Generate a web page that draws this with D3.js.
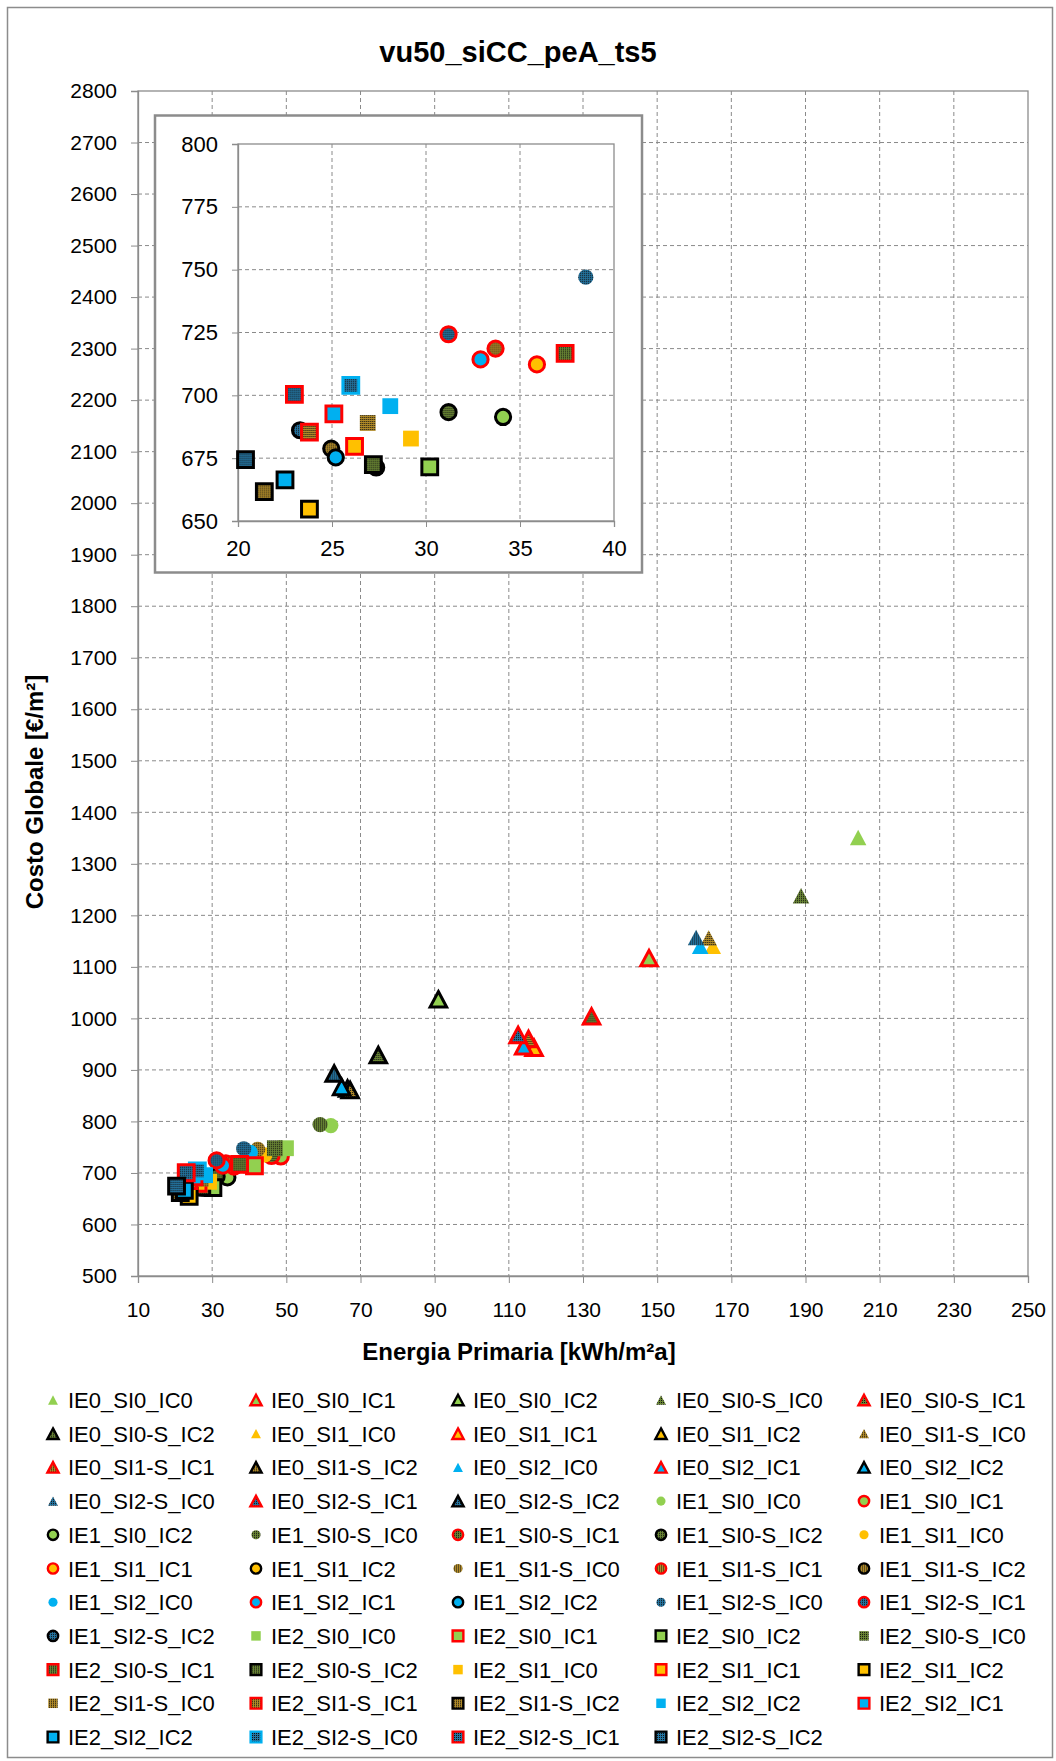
<!DOCTYPE html>
<html><head><meta charset="utf-8">
<script src="https://cdn.jsdelivr.net/npm/d3@7"></script>
<style>
body{margin:0;background:#fff}
text{font-family:"Liberation Sans",Arial,Helvetica,sans-serif;fill:#000}
</style>
</head><body>
<svg id="chart" width="1056" height="1761"></svg>
<script>
// ---------------- DATA ----------------
const seriesKeys = [
 "IE0_SI0_IC0","IE0_SI0_IC1","IE0_SI0_IC2","IE0_SI0-S_IC0","IE0_SI0-S_IC1",
 "IE0_SI0-S_IC2","IE0_SI1_IC0","IE0_SI1_IC1","IE0_SI1_IC2","IE0_SI1-S_IC0",
 "IE0_SI1-S_IC1","IE0_SI1-S_IC2","IE0_SI2_IC0","IE0_SI2_IC1","IE0_SI2_IC2",
 "IE0_SI2-S_IC0","IE0_SI2-S_IC1","IE0_SI2-S_IC2","IE1_SI0_IC0","IE1_SI0_IC1",
 "IE1_SI0_IC2","IE1_SI0-S_IC0","IE1_SI0-S_IC1","IE1_SI0-S_IC2","IE1_SI1_IC0",
 "IE1_SI1_IC1","IE1_SI1_IC2","IE1_SI1-S_IC0","IE1_SI1-S_IC1","IE1_SI1-S_IC2",
 "IE1_SI2_IC0","IE1_SI2_IC1","IE1_SI2_IC2","IE1_SI2-S_IC0","IE1_SI2-S_IC1",
 "IE1_SI2-S_IC2","IE2_SI0_IC0","IE2_SI0_IC1","IE2_SI0_IC2","IE2_SI0-S_IC0",
 "IE2_SI0-S_IC1","IE2_SI0-S_IC2","IE2_SI1_IC0","IE2_SI1_IC1","IE2_SI1_IC2",
 "IE2_SI1-S_IC0","IE2_SI1-S_IC1","IE2_SI1-S_IC2","IE2_SI2_IC0","IE2_SI2_IC1",
 "IE2_SI2_IC2","IE2_SI2-S_IC0","IE2_SI2-S_IC1","IE2_SI2-S_IC2"
];
const legendLabels = [
 "IE0_SI0_IC0","IE0_SI0_IC1","IE0_SI0_IC2","IE0_SI0-S_IC0","IE0_SI0-S_IC1",
 "IE0_SI0-S_IC2","IE0_SI1_IC0","IE0_SI1_IC1","IE0_SI1_IC2","IE0_SI1-S_IC0",
 "IE0_SI1-S_IC1","IE0_SI1-S_IC2","IE0_SI2_IC0","IE0_SI2_IC1","IE0_SI2_IC2",
 "IE0_SI2-S_IC0","IE0_SI2-S_IC1","IE0_SI2-S_IC2","IE1_SI0_IC0","IE1_SI0_IC1",
 "IE1_SI0_IC2","IE1_SI0-S_IC0","IE1_SI0-S_IC1","IE1_SI0-S_IC2","IE1_SI1_IC0",
 "IE1_SI1_IC1","IE1_SI1_IC2","IE1_SI1-S_IC0","IE1_SI1-S_IC1","IE1_SI1-S_IC2",
 "IE1_SI2_IC0","IE1_SI2_IC1","IE1_SI2_IC2","IE1_SI2-S_IC0","IE1_SI2-S_IC1",
 "IE1_SI2-S_IC2","IE2_SI0_IC0","IE2_SI0_IC1","IE2_SI0_IC2","IE2_SI0-S_IC0",
 "IE2_SI0-S_IC1","IE2_SI0-S_IC2","IE2_SI1_IC0","IE2_SI1_IC1","IE2_SI1_IC2",
 "IE2_SI1-S_IC0","IE2_SI1-S_IC1","IE2_SI1-S_IC2","IE2_SI2_IC2","IE2_SI2_IC1",
 "IE2_SI2_IC2","IE2_SI2-S_IC0","IE2_SI2-S_IC1","IE2_SI2-S_IC2"
];
// Energia Primaria [kWh/m2a]
const energia = [
 204.2, 147.8, 91.0, 188.8, 132.3,
 74.8, 165.0, 116.8, 66.5, 163.9,
 115.3, 67.2, 161.6, 114.0, 64.9,
 160.5, 112.5, 62.9, 62.0, 48.5,
 34.1, 59.1, 46.0, 31.2, 44.2,
 35.9, 27.35, 42.3, 33.7, 24.96,
 40.3, 32.9, 25.2, 38.5, 31.2,
 23.3, 49.9, 41.4, 30.2, 46.9,
 37.4, 27.2, 29.2, 26.2, 23.8,
 26.9, 23.8, 21.4, 28.1, 25.1,
 22.5, 26.0, 23.0, 20.4
];
// Costo Globale [EUR/m2]
const costo = [
 1351, 1117, 1037, 1238, 1004,
 929, 1140, 943, 864, 1156,
 960, 861, 1140, 946, 867,
 1157, 968, 893, 792, 732,
 691.4, 794, 733, 693.3, 735,
 712.3, 671.3, 746, 718.6, 678.8,
 740, 714.3, 675.3, 747, 724.3,
 686.1, 748, 714, 671.5, 748,
 716.7, 672.4, 682.8, 679.7, 654.7,
 689, 685.4, 661.7, 695.7, 692.6,
 666.4, 704, 700.4, 674.4
];
const xTickValues = [10,30,50,70,90,110,130,150,170,190,210,230,250];
const yTickValues = [500,600,700,800,900,1000,1100,1200,1300,1400,1500,1600,1700,1800,1900,2000,2100,2200,2300,2400,2500,2600,2700,2800];
const insetXTicks = [20,25,30,35,40];
const insetYTicks = [650,675,700,725,750,775,800];
const chartTitle = "vu50_siCC_peA_ts5";
const xTitle = "Energia Primaria [kWh/m²a]";
const yTitle = "Costo Globale [€/m²]";

// ---------------- STYLE HELPERS ----------------
const svg = d3.select("#chart");
const defs = svg.append("defs");
const patternBase = {"SI0-S":"#688433","SI1-S":"#B08A28","SI2-S":"#2474A0"};
Object.entries(patternBase).forEach(([k,c])=>{
  const p = defs.append("pattern").attr("id","pat"+k.replace("-",""))
    .attr("patternUnits","userSpaceOnUse").attr("width",2).attr("height",2);
  p.append("rect").attr("width",2).attr("height",2).attr("fill",c);
  p.append("rect").attr("width",1).attr("height",1).attr("fill","#111");
});
const solidFill = {"SI0":"#92D050","SI1":"#FFC000","SI2":"#00B0F0"};
function parseKey(k){ const p=k.split("_"); return {ie:p[0], si:p[1], ic:p[2]}; }
function fillOf(k){ const s=parseKey(k).si; return solidFill[s] || "url(#pat"+s.replace("-","")+")"; }
function strokeOf(k){
  const q=parseKey(k);
  if(q.ic==="IC1") return "#FF0000";
  if(q.ic==="IC2") return "#000000";
  if(q.ie==="IE2" && q.si==="SI2-S") return "#00B0F0";
  return "none";
}
function shapePath(k, sc){
  const ie=parseKey(k).ie, p=d3.path();
  if(ie==="IE0"){ const w=16.5*sc,h=15.5*sc; p.moveTo(0,-h/2); p.lineTo(w/2,h/2); p.lineTo(-w/2,h/2); p.closePath(); }
  else if(ie==="IE1"){ const r=7.6*sc; p.arc(0,0,r,0,2*Math.PI); p.closePath(); }
  else { const s=15.8*sc; p.rect(-s/2,-s/2,s,s); }
  return p.toString();
}
function drawMarkers(g, idx, xs, ys, sc, sw){
  g.selectAll("path.mk").data(idx).enter().append("path").attr("class","mk")
    .attr("d", i=>shapePath(seriesKeys[i], sc))
    .attr("transform", i=>`translate(${xs(energia[i])},${ys(costo[i])})`)
    .attr("fill", i=>fillOf(seriesKeys[i]))
    .attr("stroke", i=>strokeOf(seriesKeys[i]))
    .attr("stroke-width", sw).attr("stroke-linejoin","miter");
}

// ---------------- FRAME ----------------
svg.append("rect").attr("x",7.5).attr("y",7.5).attr("width",1045).attr("height",1750)
  .attr("fill","#fff").attr("stroke","#8c8c8c").attr("stroke-width",1.5);
svg.append("text").attr("x",518).attr("y",62).attr("text-anchor","middle")
  .style("font-size","29px").style("font-weight","bold").text(chartTitle);

// ---------------- MAIN PLOT ----------------
const L=138, R=1028, T=91, B=1276;
const x = d3.scaleLinear().domain([10,250]).range([L,R]);
const y = d3.scaleLinear().domain([500,2800]).range([B,T]);
const grid = svg.append("g");
grid.selectAll("line.v").data(xTickValues.slice(1,-1)).enter().append("line")
  .attr("x1",d=>x(d)).attr("x2",d=>x(d)).attr("y1",T).attr("y2",B)
  .attr("stroke","#8a8a8a").attr("stroke-dasharray","4,3");
grid.selectAll("line.h").data(yTickValues.slice(1,-1)).enter().append("line")
  .attr("y1",d=>y(d)).attr("y2",d=>y(d)).attr("x1",L).attr("x2",R)
  .attr("stroke","#8a8a8a").attr("stroke-dasharray","4,3");
svg.append("rect").attr("x",L).attr("y",T).attr("width",R-L).attr("height",B-T)
  .attr("fill","none").attr("stroke","#8c8c8c").attr("stroke-width",1.3);

const xAxis = svg.append("g").attr("transform",`translate(0,${B})`)
  .call(d3.axisBottom(x).tickValues(xTickValues).tickSize(7).tickPadding(14).tickFormat(d3.format("d")));
const yAxis = svg.append("g").attr("transform",`translate(${L},0)`)
  .call(d3.axisLeft(y).tickValues(yTickValues).tickSize(7).tickPadding(14).tickFormat(d3.format("d")));
[xAxis,yAxis].forEach(a=>{
  a.select(".domain").attr("stroke","#8c8c8c").attr("stroke-width",1.3);
  a.selectAll(".tick line").attr("stroke","#8c8c8c");
  a.selectAll(".tick text").style("font-size","21px").attr("fill","#000")
    .style("font-family","'Liberation Sans',Arial,sans-serif");
});
xAxis.selectAll(".tick text").attr("dy","0.95em");

svg.append("text").attr("x",519).attr("y",1360).attr("text-anchor","middle")
  .style("font-size","24px").style("font-weight","bold").text(xTitle);
svg.append("text").attr("transform","translate(43,792) rotate(-90)").attr("text-anchor","middle")
  .style("font-size","24px").style("font-weight","bold").text(yTitle);

const allIdx = d3.range(seriesKeys.length);
drawMarkers(svg.append("g"), allIdx, x, y, 1, 3);

// ---------------- INSET ----------------
svg.append("rect").attr("x",155).attr("y",115.5).attr("width",487).attr("height",457)
  .attr("fill","#fff").attr("stroke","#8c8c8c").attr("stroke-width",2.5);
const iL=238, iR=614, iT=144, iB=521;
const xi = d3.scaleLinear().domain([20,40]).range([iL,iR]);
const yi = d3.scaleLinear().domain([650,800]).range([iB,iT]);
const ig = svg.append("g");
ig.selectAll("line.v").data(insetXTicks.slice(1,-1)).enter().append("line")
  .attr("x1",d=>xi(d)).attr("x2",d=>xi(d)).attr("y1",iT).attr("y2",iB)
  .attr("stroke","#8a8a8a").attr("stroke-dasharray","4,3");
ig.selectAll("line.h").data(insetYTicks.slice(1,-1)).enter().append("line")
  .attr("y1",d=>yi(d)).attr("y2",d=>yi(d)).attr("x1",iL).attr("x2",iR)
  .attr("stroke","#8a8a8a").attr("stroke-dasharray","4,3");
ig.append("rect").attr("x",iL).attr("y",iT).attr("width",iR-iL).attr("height",iB-iT)
  .attr("fill","none").attr("stroke","#8c8c8c").attr("stroke-width",1.3);
const ixA = ig.append("g").attr("transform",`translate(0,${iB})`)
  .call(d3.axisBottom(xi).tickValues(insetXTicks).tickSize(6).tickPadding(10).tickFormat(d3.format("d")));
const iyA = ig.append("g").attr("transform",`translate(${iL},0)`)
  .call(d3.axisLeft(yi).tickValues(insetYTicks).tickSize(6).tickPadding(14).tickFormat(d3.format("d")));
[ixA,iyA].forEach(a=>{
  a.select(".domain").attr("stroke","#8c8c8c").attr("stroke-width",1.3);
  a.selectAll(".tick line").attr("stroke","#8c8c8c");
  a.selectAll(".tick text").style("font-size","22px").attr("fill","#000")
    .style("font-family","'Liberation Sans',Arial,sans-serif");
});
ixA.selectAll(".tick text").attr("dy","0.85em");
const inIdx = allIdx.filter(i=>energia[i]>=20 && energia[i]<=40 && costo[i]>=650 && costo[i]<=800);
drawMarkers(ig.append("g"), inIdx, xi, yi, 1, 3);

// ---------------- LEGEND ----------------
const colX = [53,256,458,661,864];
const rowY0 = 1400, rowStep = 33.7;
const lg = svg.append("g");
allIdx.forEach(i=>{
  const c=i%5, r=Math.floor(i/5);
  const cx=colX[c], cy=rowY0+r*rowStep;
  const k=seriesKeys[i];
  const bordered = strokeOf(k)!=="none";
  lg.append("path").attr("d",shapePath(k, bordered?0.68:0.6))
    .attr("transform",`translate(${cx},${cy})`)
    .attr("fill",fillOf(k)).attr("stroke",strokeOf(k)).attr("stroke-width",2.4);
  lg.append("text").attr("x",cx+15).attr("y",cy+8).style("font-size","22px").text(legendLabels[i]);
});
</script>
</body></html>
